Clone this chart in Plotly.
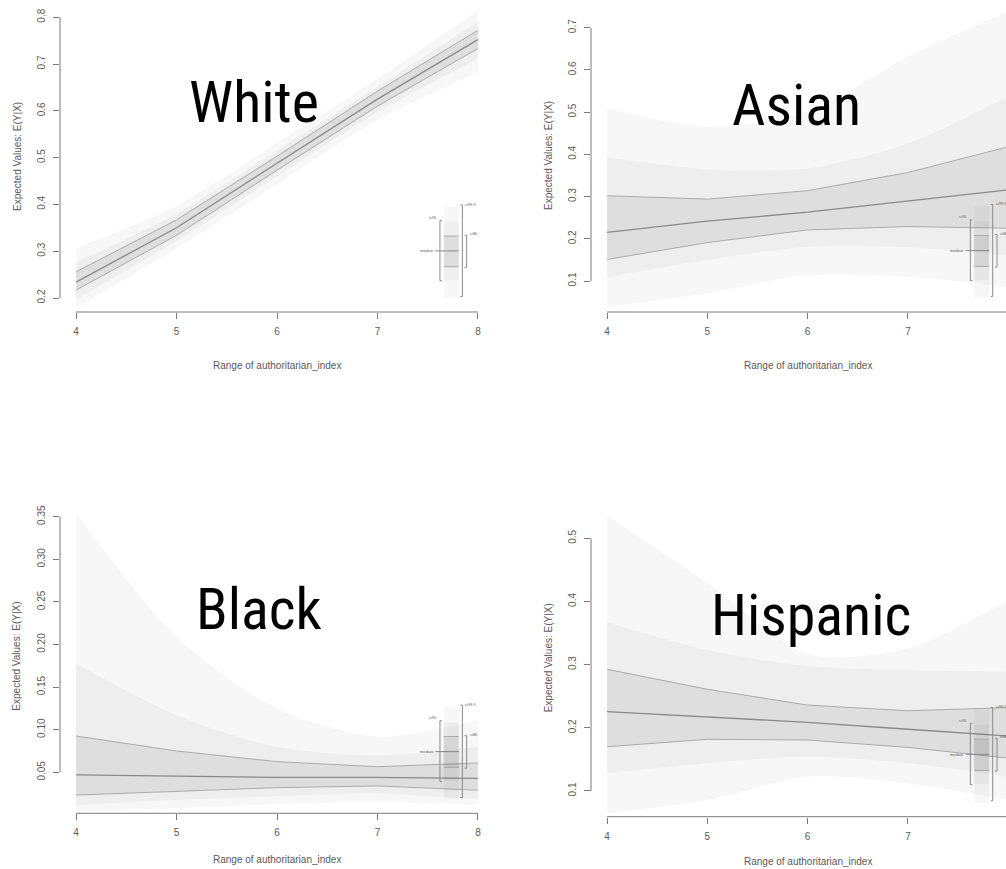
import plotly.graph_objects as go

W, H = 1006, 869

# ---- data: expected values over the authoritarian index ----
x_index = [4, 5, 6, 7, 8]
x_ticks = [4, 5, 6, 7, 8]
x_tick_text = ["4", "5", "6", "7", "8"]

white_median = [0.234, 0.350, 0.488, 0.625, 0.752]
white_lo80 = [0.217, 0.334, 0.473, 0.610, 0.733]
white_hi80 = [0.256, 0.367, 0.503, 0.642, 0.772]
white_lo95 = [0.197, 0.322, 0.460, 0.597, 0.712]
white_hi95 = [0.276, 0.380, 0.515, 0.652, 0.790]
white_lo999 = [0.179, 0.305, 0.443, 0.580, 0.683]
white_hi999 = [0.306, 0.397, 0.532, 0.668, 0.815]

asian_median = [0.215, 0.242, 0.263, 0.290, 0.316]
asian_lo80 = [0.151, 0.191, 0.221, 0.229, 0.225]
asian_hi80 = [0.302, 0.294, 0.314, 0.357, 0.418]
asian_lo95 = [0.109, 0.150, 0.181, 0.180, 0.160]
asian_hi95 = [0.393, 0.365, 0.367, 0.426, 0.537]
asian_lo999 = [0.039, 0.071, 0.114, 0.110, 0.086]
asian_hi999 = [0.508, 0.466, 0.501, 0.632, 0.738]

black_median = [0.047, 0.0457, 0.044, 0.044, 0.043]
black_lo80 = [0.0233, 0.028, 0.032, 0.034, 0.029]
black_hi80 = [0.0926, 0.075, 0.0625, 0.0566, 0.061]
black_lo95 = [0.0116, 0.0175, 0.022, 0.025, 0.018]
black_hi95 = [0.178, 0.117, 0.080, 0.070, 0.080]
black_lo999 = [0.004, 0.0077, 0.0128, 0.0155, 0.0116]
black_hi999 = [0.354, 0.209, 0.125, 0.092, 0.111]

hisp_median = [0.2256, 0.2166, 0.2087, 0.1977, 0.187]
hisp_lo80 = [0.170, 0.1818, 0.1807, 0.169, 0.152]
hisp_hi80 = [0.2926, 0.261, 0.236, 0.227, 0.232]
hisp_lo95 = [0.128, 0.1438, 0.154, 0.144, 0.1226]
hisp_hi95 = [0.367, 0.323, 0.298, 0.2915, 0.289]
hisp_lo999 = [0.0647, 0.0858, 0.1226, 0.112, 0.0858]
hisp_hi999 = [0.537, 0.4288, 0.317, 0.326, 0.402]

white_yticks = [0.2, 0.3, 0.4, 0.5, 0.6, 0.7, 0.8]
white_ytext = ["0.2", "0.3", "0.4", "0.5", "0.6", "0.7", "0.8"]
asian_yticks = [0.1, 0.2, 0.3, 0.4, 0.5, 0.6, 0.7]
asian_ytext = ["0.1", "0.2", "0.3", "0.4", "0.5", "0.6", "0.7"]
black_yticks = [0.05, 0.10, 0.15, 0.20, 0.25, 0.30, 0.35]
black_ytext = ["0.05", "0.10", "0.15", "0.20", "0.25", "0.30", "0.35"]
hisp_yticks = [0.1, 0.2, 0.3, 0.4, 0.5]
hisp_ytext = ["0.1", "0.2", "0.3", "0.4", "0.5"]

group_names = ["White", "Asian", "Black", "Hispanic"]
x_title = "Range of authoritarian_index"
y_title = "Expected Values: E(Y|X)"
legend_labels = ["ci95", "ci99.9", "ci80", "median"]

# ---- layout of the four panels (pixel boxes -> paper fractions) ----
def fx(p):
    return p / W

def fy(p):
    return 1 - p / H

panels = [
    dict(name=group_names[0], med=white_median, lo80=white_lo80, hi80=white_hi80,
         lo95=white_lo95, hi95=white_hi95, lo999=white_lo999, hi999=white_hi999,
         yticks=white_yticks, ytext=white_ytext,
         box=(60, 494, 2, 312), xr=[3.84, 8.16], yr=[0.1701, 0.8325],
         ytitle_x=17, xtitle_y=365, label_xy=(254, 102)),
    dict(name=group_names[1], med=asian_median, lo80=asian_lo80, hi80=asian_hi80,
         lo95=asian_lo95, hi95=asian_hi95, lo999=asian_lo999, hi999=asian_hi999,
         yticks=asian_yticks, ytext=asian_ytext,
         box=(591, 1006, 0, 312), xr=[3.84, 7.9775], yr=[0.0266, 0.7656],
         ytitle_x=548, xtitle_y=365, label_xy=(796, 105)),
    dict(name=group_names[2], med=black_median, lo80=black_lo80, hi80=black_hi80,
         lo95=black_lo95, hi95=black_hi95, lo999=black_lo999, hi999=black_hi999,
         yticks=black_yticks, ytext=black_ytext,
         box=(60, 494, 500, 813.3), xr=[3.84, 8.16], yr=[0.0019, 0.3696],
         ytitle_x=17, xtitle_y=859, label_xy=(259, 609)),
    dict(name=group_names[3], med=hisp_median, lo80=hisp_lo80, hi80=hisp_hi80,
         lo95=hisp_lo95, hi95=hisp_hi95, lo999=hisp_lo999, hi999=hisp_hi999,
         yticks=hisp_yticks, ytext=hisp_ytext,
         box=(591, 1006, 500, 816.7), xr=[3.84, 7.9775], yr=[0.0593, 0.5606],
         ytitle_x=548, xtitle_y=861, label_xy=(811, 615)),
]

AXIS_COL = "#7a7a7a"
TEXT_COL = "#5a5a5a"
SMALL_FONT = "Liberation Sans, Arial, sans-serif"
BIG_FONT = "Roboto Condensed, Liberation Sans Narrow, Roboto, sans-serif"

BAND999 = "rgba(0,0,0,0.032)"
BAND95 = "rgba(0,0,0,0.036)"
BAND80 = "rgba(0,0,0,0.065)"
EDGE80 = "#ababab"
MEDIAN_COL = "#8a8a8a"

fig = go.Figure()
shapes = []
annotations = []

for i, p in enumerate(panels, start=1):
    sfx = "" if i == 1 else str(i)
    xa, ya = "x" + sfx, "y" + sfx
    x0p, x1p, y0p, y1p = p["box"]

    # nested interval bands, widest first; the outer two are smoothed
    for lo, hi, col, shape in ((p["lo999"], p["hi999"], BAND999, "spline"),
                               (p["lo95"], p["hi95"], BAND95, "spline"),
                               (p["lo80"], p["hi80"], BAND80, "linear")):
        fig.add_trace(go.Scatter(
            x=x_index, y=lo, mode="lines",
            line=dict(width=0, shape=shape, smoothing=0.8),
            hoverinfo="skip", showlegend=False, xaxis=xa, yaxis=ya))
        fig.add_trace(go.Scatter(
            x=x_index, y=hi, mode="lines", fill="tonexty", fillcolor=col,
            line=dict(width=0, shape=shape, smoothing=0.8),
            hoverinfo="skip", showlegend=False, xaxis=xa, yaxis=ya))
    for edge in (p["lo80"], p["hi80"]):
        fig.add_trace(go.Scatter(
            x=x_index, y=edge, mode="lines",
            line=dict(color=EDGE80, width=1), hoverinfo="skip",
            showlegend=False, xaxis=xa, yaxis=ya))
    fig.add_trace(go.Scatter(
        x=x_index, y=p["med"], mode="lines",
        line=dict(color=MEDIAN_COL, width=1.3), showlegend=False,
        xaxis=xa, yaxis=ya))

    axis_common = dict(showgrid=False, zeroline=False, showline=False,
                       ticks="outside", ticklen=6, tickwidth=1,
                       tickcolor=AXIS_COL,
                       tickfont=dict(family=SMALL_FONT, size=10, color=TEXT_COL))
    fig.update_layout(**{
        ("xaxis" + sfx): dict(domain=[fx(x0p), fx(x1p)], range=p["xr"],
                              anchor=ya, tickvals=x_ticks, ticktext=x_tick_text,
                              ticklabelstandoff=4, **axis_common),
        ("yaxis" + sfx): dict(domain=[fy(y1p), fy(y0p)], range=p["yr"],
                              anchor=xa, tickvals=p["yticks"], ticktext=p["ytext"],
                              tickangle=-90, ticklabelstandoff=4, **axis_common),
    })

    # R-style axis lines running from first to last tick
    shapes.append(dict(type="line", xref=xa, yref=ya + " domain",
                       x0=x_ticks[0], x1=x_ticks[-1], y0=0, y1=0,
                       line=dict(color=AXIS_COL, width=1)))
    shapes.append(dict(type="line", xref=xa + " domain", yref=ya,
                       x0=0, x1=0, y0=p["yticks"][0], y1=p["yticks"][-1],
                       line=dict(color=AXIS_COL, width=1)))

    # axis titles
    annotations.append(dict(text=y_title, xref="paper", yref=ya + " domain",
                            x=fx(p["ytitle_x"]), y=0.5, textangle=-90,
                            showarrow=False, xanchor="center", yanchor="middle",
                            font=dict(family=SMALL_FONT, size=10, color=TEXT_COL)))
    annotations.append(dict(text=x_title, xref=xa, yref="paper",
                            x=6, y=fy(p["xtitle_y"]), showarrow=False,
                            xanchor="center", yanchor="middle",
                            font=dict(family=SMALL_FONT, size=10, color=TEXT_COL)))

    # group name
    lx, ly = p["label_xy"]
    annotations.append(dict(text=p["name"], xref="paper", yref="paper",
                            x=fx(lx), y=fy(ly), showarrow=False,
                            xanchor="center", yanchor="middle",
                            font=dict(family=BIG_FONT, size=58, weight=400,
                                      color="#000000")))

    # interval key in the lower right corner
    yd = ya + " domain"
    key = [
        (7.66, 7.81, 0.045, 0.340, BAND999),
        (7.66, 7.81, 0.103, 0.291, BAND95),
        (7.66, 7.81, 0.146, 0.245, BAND80),
    ]
    for kx0, kx1, ky0, ky1, col in key:
        shapes.append(dict(type="rect", xref=xa, yref=yd, x0=kx0, x1=kx1,
                           y0=ky0, y1=ky1, fillcolor=col,
                           line=dict(width=0)))
    for ky in (0.146, 0.245):
        shapes.append(dict(type="line", xref=xa, yref=yd, x0=7.66, x1=7.81,
                           y0=ky, y1=ky, line=dict(color=EDGE80, width=1)))
    shapes.append(dict(type="line", xref=xa, yref=yd, x0=7.575, x1=7.81,
                       y0=0.197, y1=0.197,
                       line=dict(color=MEDIAN_COL, width=1)))
    brackets = [
        (7.622, 0.101, 0.295, 0.02),
        (7.845, 0.050, 0.345, -0.02),
        (7.888, 0.144, 0.248, -0.02),
    ]
    for bx, by0, by1, stub in brackets:
        path = f"M{bx + stub},{by0} L{bx},{by0} L{bx},{by1} L{bx + stub},{by1}"
        shapes.append(dict(type="path", xref=xa, yref=yd, path=path,
                           line=dict(color="#8a8a8a", width=1)))
    key_text = [
        (legend_labels[0], 7.612, 0.305, "right"),
        (legend_labels[1], 7.855, 0.348, "left"),
        (legend_labels[2], 7.898, 0.252, "left"),
        (legend_labels[3], 7.572, 0.197, "right"),
    ]
    for txt, tx, ty, anc in key_text:
        annotations.append(dict(text=txt, xref=xa, yref=yd, x=tx, y=ty,
                                showarrow=False, xanchor=anc, yanchor="middle",
                                font=dict(family=SMALL_FONT, size=4,
                                          color=TEXT_COL)))

fig.update_layout(
    width=W, height=H,
    margin=dict(l=0, r=0, t=0, b=0),
    paper_bgcolor="white", plot_bgcolor="white",
    showlegend=False,
    shapes=shapes, annotations=annotations,
)

fig.write_html("out.html")
